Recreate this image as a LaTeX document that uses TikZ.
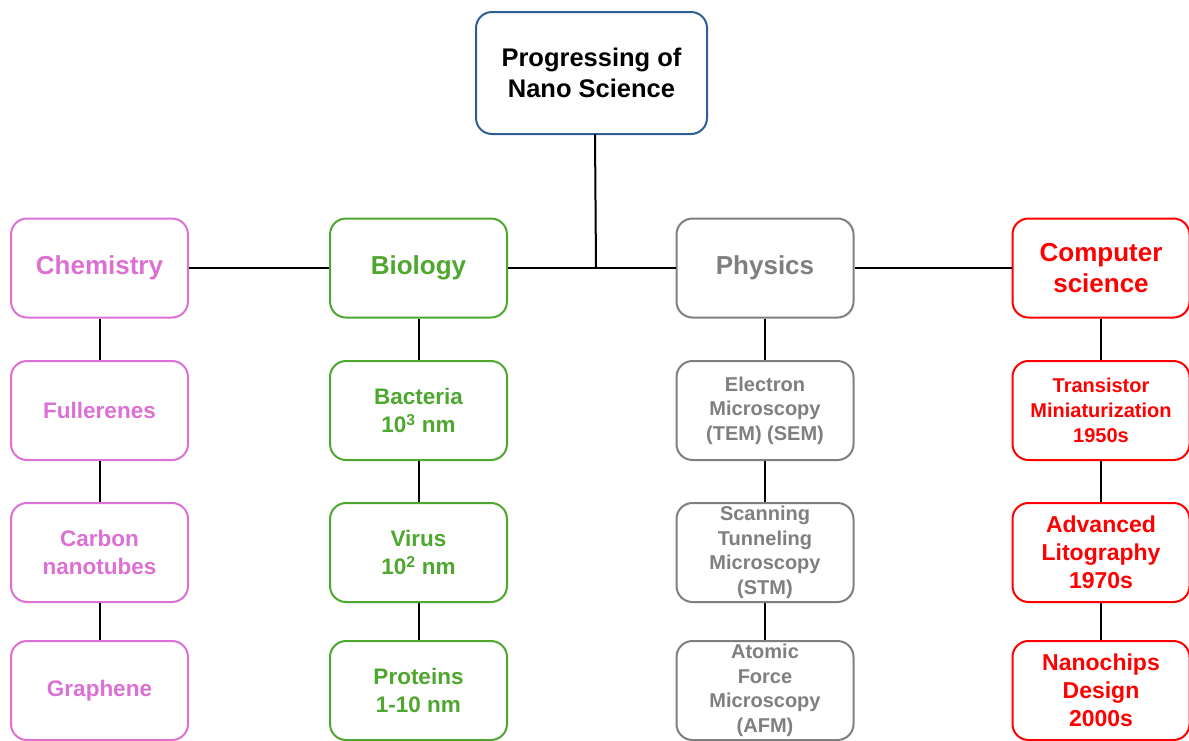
\documentclass[tikz,border=0pt]{standalone}
\usepackage{fontspec}
\setmainfont{Liberation Sans}
\definecolor{chem}{RGB}{220,112,212}
\definecolor{bio}{RGB}{78,167,46}
\definecolor{phys}{RGB}{127,127,127}
\definecolor{comp}{RGB}{255,0,0}
\definecolor{titleblue}{RGB}{46,94,150}
\tikzset{
  box/.style={draw, line width=2pt, rounded corners=16pt, fill=white,
    minimum width=177pt, minimum height=99pt, align=center, inner sep=0pt},
  hdr/.style={box, font=\bfseries\fontsize{26}{31}\selectfont},
  item/.style={box, font=\bfseries\fontsize{22.5}{28}\selectfont},
  small/.style={box, font=\bfseries\fontsize{20}{24.5}\selectfont},
  chembox/.style={draw=chem, text=chem},
  biobox/.style={draw=bio, text=bio},
  physbox/.style={draw=phys, text=phys},
  compbox/.style={draw=comp, text=comp},
  link/.style={line width=2pt, black}
}
\begin{document}
\begin{tikzpicture}[x=1pt,y=-1pt]
\useasboundingbox (0,0) rectangle (1189,740);
% title
\node[box, draw=titleblue, minimum width=231pt, minimum height=122pt,
  font=\bfseries\fontsize{25.5}{31}\selectfont] (title) at (591.5,73) {Progressing of\\Nano Science};
% headers
\node[hdr, chembox] (chem) at (99.5,268) {Chemistry};
\node[hdr, biobox] (bio) at (418.5,268) {Biology};
\node[hdr, physbox] (phys) at (765,268) {Physics};
\node[hdr, compbox] (comp) at (1101,268) {Computer\\science};
% chemistry column
\node[item, chembox] (c1) at (99.5,410.5) {Fullerenes};
\node[item, chembox] (c2) at (99.5,552.5) {Carbon\\nanotubes};
\node[item, chembox] (c3) at (99.5,690.5) {Graphene};
% biology column
\node[item, biobox] (b1) at (418.5,410.5) {Bacteria\\10\textsuperscript{3} nm};
\node[item, biobox] (b2) at (418.5,552.5) {Virus\\10\textsuperscript{2} nm};
\node[item, biobox] (b3) at (418.5,690.5) {Proteins\\1-10 nm};
% physics column
\node[small, physbox] (p1) at (765,410.5) {Electron\\Microscopy\\(TEM) (SEM)};
\node[small, physbox] (p2) at (765,552.5) {Scanning\\Tunneling\\Microscopy\\(STM)};
\node[small, physbox] (p3) at (765,690.5) {Atomic\\Force\\Microscopy\\(AFM)};
% computer science column
\node[small, compbox, font=\bfseries\fontsize{20}{25}\selectfont] (k1) at (1101,410.5) {Transistor\\Miniaturization\\1950s};
\node[item, compbox, font=\bfseries\fontsize{23}{28}\selectfont] (k2) at (1101,552.5) {Advanced\\Litography\\1970s};
\node[item, compbox, font=\bfseries\fontsize{23}{28}\selectfont] (k3) at (1101,690.5) {Nanochips\\Design\\2000s};
% connectors
\coordinate (top) at (595,134);
\coordinate (junc) at (596,268);
\draw[link] (top) -- (junc);
\draw[link] (chem.east) -- (bio.west);
\draw[link] (bio.east) -- (phys.west);
\draw[link] (phys.east) -- (comp.west);
\draw[link] (chem.south) -- (c1.north);
\draw[link] (c1.south) -- (c2.north);
\draw[link] (c2.south) -- (c3.north);
\draw[link] (bio.south) -- (b1.north);
\draw[link] (b1.south) -- (b2.north);
\draw[link] (b2.south) -- (b3.north);
\draw[link] (phys.south) -- (p1.north);
\draw[link] (p1.south) -- (p2.north);
\draw[link] (p2.south) -- (p3.north);
\draw[link] (comp.south) -- (k1.north);
\draw[link] (k1.south) -- (k2.north);
\draw[link] (k2.south) -- (k3.north);
\end{tikzpicture}
\end{document}
